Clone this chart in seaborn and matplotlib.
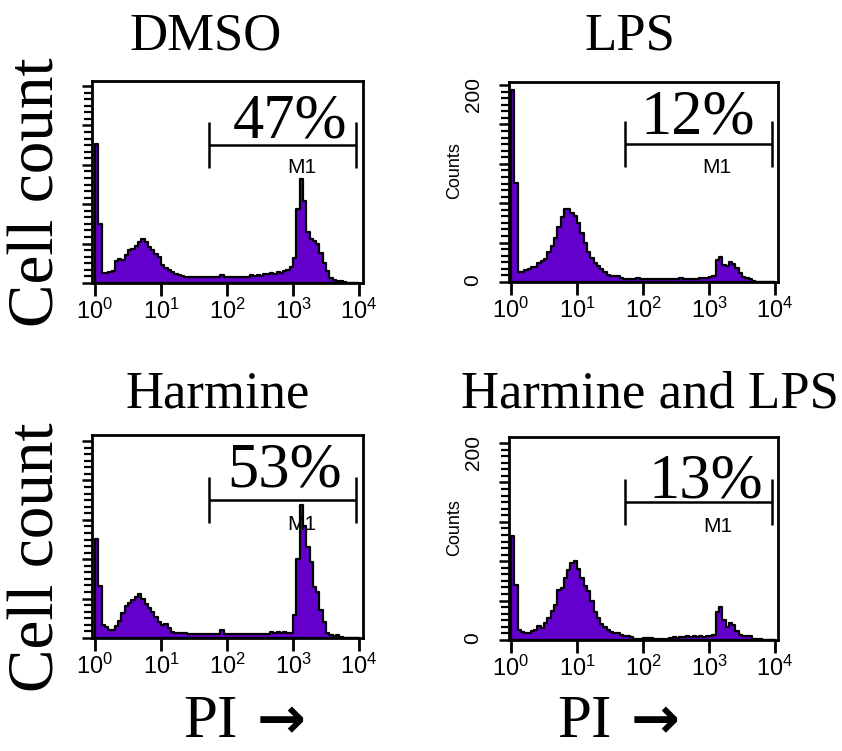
import numpy as np
import pandas as pd
import matplotlib
matplotlib.use("Agg")
import matplotlib.pyplot as plt
import seaborn as sns
from matplotlib.ticker import FixedLocator, MultipleLocator, LogLocator, FuncFormatter, NullFormatter

# ---------------------------------------------------------------- data
conditions = ["DMSO", "LPS", "Harmine", "Harmine and LPS"]
percent_m1 = [47, 12, 53, 13]
pi_decade_ticks = [1, 10, 100, 1000, 10000]
count_major_ticks = [0, 40, 80, 120, 160, 200]
count_tick_labels = {0: "0", 200: "200"}
m1_gate = [53, 9100]      # PI range covered by the M1 marker
m1_level = 140            # height of the marker bar (counts)

# Counts per channel, 20 channels per PI decade from 10^0 to 10^4
counts_dmso = [141, 60, 10, 10, 11, 12, 22, 24, 23, 28,
               33, 35, 38, 42, 45, 42, 37, 33, 29, 26,
               18, 15, 13, 11, 9, 8, 7, 6, 6, 6,
               6, 6, 6, 6, 6, 6, 6, 6, 8, 6,
               6, 6, 6, 6, 6, 6, 6, 8, 7, 8,
               7, 9, 9, 10, 9, 11, 10, 12, 13, 16,
               25, 75, 106, 83, 52, 45, 43, 40, 30, 20,
               12, 5, 3, 2, 2, 1, 0, 0, 0, 0]
counts_lps = [195, 101, 10, 10, 12, 13, 15, 15, 19, 21,
              23, 30, 37, 45, 56, 66, 74, 74, 70, 67,
              60, 50, 40, 30, 24, 19, 16, 13, 10, 7,
              6, 6, 6, 4, 3, 3, 3, 3, 4, 3,
              3, 3, 3, 3, 3, 3, 3, 3, 3, 3,
              3, 4, 3, 3, 3, 3, 3, 4, 4, 4,
              5, 6, 22, 25, 17, 16, 20, 18, 14, 9,
              5, 4, 3, 1, 0, 0, 0, 0, 0, 0]
counts_harmine = [101, 53, 13, 11, 8, 8, 12, 17, 25, 32,
                  36, 39, 42, 45, 40, 35, 30, 26, 21, 16,
                  13, 14, 10, 6, 5, 5, 5, 5, 4, 4,
                  4, 4, 4, 4, 4, 4, 4, 4, 8, 4,
                  4, 4, 4, 4, 4, 4, 4, 4, 4, 4,
                  4, 4, 4, 6, 5, 6, 5, 6, 5, 5,
                  23, 80, 135, 114, 92, 77, 52, 47, 28, 16,
                  5, 3, 2, 3, 1, 0, 0, 0, 0, 0]
counts_harmine_lps = [106, 56, 10, 8, 7, 7, 9, 10, 14, 12,
                      17, 22, 29, 36, 51, 53, 63, 71, 78, 80,
                      72, 63, 55, 50, 40, 28, 22, 16, 13, 10,
                      8, 7, 7, 5, 4, 4, 3, 1, 1, 1,
                      2, 2, 2, 1, 1, 1, 1, 1, 2, 3,
                      2, 3, 3, 4, 3, 4, 3, 4, 3, 4,
                      4, 5, 28, 34, 20, 13, 17, 15, 9, 5,
                      4, 4, 4, 1, 1, 1, 0, 0, 0, 0]
all_counts = [counts_dmso, counts_lps, counts_harmine, counts_harmine_lps]

# channel edges in log10(PI) units
log_edges = np.linspace(0, 4, 81)
channel_pi = 10 ** ((log_edges[:-1] + log_edges[1:]) / 2)

frames = []
for name, cnt in zip(conditions, all_counts):
    frames.append(pd.DataFrame({"condition": name, "pi": channel_pi, "count": cnt}))
df = pd.concat(frames, ignore_index=True)

# ---------------------------------------------------------------- style
sns.set_style("white")
plt.rcParams["font.family"] = ["Liberation Sans", "DejaVu Sans"]
plt.rcParams["mathtext.default"] = "regular"
for key in ("text.color", "axes.labelcolor", "xtick.color", "ytick.color", "axes.edgecolor"):
    plt.rcParams[key] = "black"

PURPLE = "#6400CC"
SERIF = ["Liberation Serif", "DejaVu Serif"]
SANS = ["Liberation Sans", "DejaVu Sans"]

FIG_W, FIG_H = 842, 751
fig = plt.figure(figsize=(FIG_W / 100, FIG_H / 100), dpi=100)


def px_rect(left, top, right, bottom):
    return [left / FIG_W, 1 - bottom / FIG_H, (right - left) / FIG_W, (bottom - top) / FIG_H]


def fx(x):
    return x / FIG_W


def fy(y):
    return 1 - y / FIG_H


# panel frames (left, top, right, bottom) and pixel x of 10^0 / 10^4
panel_boxes = [(92, 81, 363, 283), (509, 82, 778, 282),
               (92, 435, 363, 638), (509, 437, 778, 640)]
decade_px = [(95, 359), (511, 775), (95, 359), (511, 775)]
pct_pos = [(0.731, 0.718), (0.703, 0.745), (0.712, 0.744), (0.732, 0.704)]
m1_pos = [(0.775, 0.545), (0.773, 0.545), (0.775, 0.532), (0.777, 0.532)]
show_counts_axis = [False, True, False, True]
PX_PER_COUNT = 0.985

for k, name in enumerate(conditions):
    box = panel_boxes[k]
    ax = fig.add_axes(px_rect(*box))
    sub = df[df["condition"] == name]
    sns.histplot(data=sub, x="pi", weights="count", bins=list(log_edges), log_scale=True,
                 element="step", fill=True, color=PURPLE, edgecolor="black",
                 linewidth=1.6, alpha=1.0, ax=ax)

    # axis ranges
    x0, x4 = decade_px[k]
    ppd = (x4 - x0) / 4.0
    ax.set_xlim(10 ** (-(x0 - box[0]) / ppd), 10 ** (4 + (box[2] - x4) / ppd))
    ax.set_ylim(0, (box[3] - box[1]) / PX_PER_COUNT)

    # M1 marker
    lo, hi = m1_gate
    ax.plot([lo, hi], [m1_level, m1_level], color="black", lw=1.8, solid_capstyle="butt")
    ax.vlines([lo, hi], m1_level - 23, m1_level + 23, color="black", lw=1.8)
    ax.text(*m1_pos[k], "M1", transform=ax.transAxes, ha="center", va="baseline",
            fontsize=15, family=SANS)
    ax.text(*pct_pos[k], f"{percent_m1[k]}%", transform=ax.transAxes, ha="center",
            va="baseline", fontsize=45, family=SERIF)

    # x axis: log decades
    ax.xaxis.set_major_locator(FixedLocator(pi_decade_ticks))
    ax.xaxis.set_minor_locator(LogLocator(base=10, subs=range(2, 10)))
    ax.xaxis.set_minor_formatter(NullFormatter())
    ax.tick_params(axis="x", which="major", direction="out", length=9, width=2,
                   labelsize=17, pad=2, bottom=True)
    ax.tick_params(axis="x", which="minor", direction="out", length=5, width=1.6, bottom=True)

    # y axis: counts
    ax.yaxis.set_major_locator(FixedLocator(count_major_ticks))
    ax.yaxis.set_minor_locator(MultipleLocator(40 / 6))
    ax.tick_params(axis="y", which="major", direction="out", length=7, width=1.8, left=True)
    ax.tick_params(axis="y", which="minor", direction="out", length=6, width=1.6, left=True)
    if show_counts_axis[k]:
        ax.yaxis.set_major_formatter(FuncFormatter(lambda v, p: count_tick_labels.get(int(round(v)), "")))
        ax.tick_params(axis="y", which="major", labelrotation=90, labelsize=15, pad=12)
        ax.set_ylabel("Counts", fontsize=13, family=SANS)
        ax.yaxis.set_label_coords(-0.171, 0.555)
    else:
        ax.tick_params(axis="y", which="major", labelleft=False)
        ax.set_ylabel("")
    ax.set_xlabel("")

    for sp in ax.spines.values():
        sp.set_linewidth(2)
        sp.set_color("black")

# panel titles
title_pos = [(206, 50), (630, 50), (218, 408), (650, 408)]
for name, (tx, ty) in zip(conditions, title_pos):
    fig.text(fx(tx), fy(ty), name, ha="center", va="baseline", fontsize=38, family=SERIF)

# row labels
for cy in (192, 557):
    fig.text(fx(38), fy(cy), "Cell count", rotation=90, ha="center", va="center",
             fontsize=47, family=SERIF)

# column axis names
for pi_x, arrow_x in ((210, 281), (584, 655)):
    fig.text(fx(pi_x), fy(750), "PI", ha="center", va="bottom", fontsize=44, family=SERIF)
    fig.text(fx(arrow_x), fy(750), "\u2192", ha="center", va="bottom", fontsize=42,
             family=["DejaVu Sans"], fontweight="bold")

fig.savefig("out.png", dpi=100)
